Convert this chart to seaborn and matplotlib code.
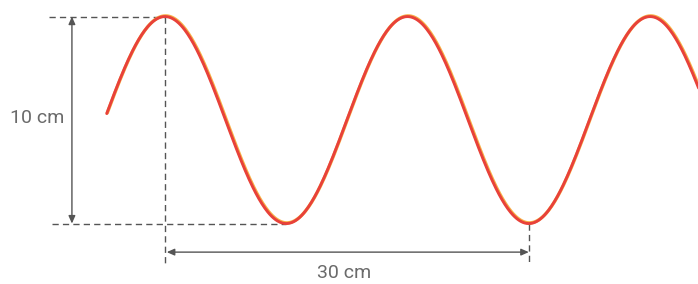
import numpy as np
import pandas as pd
import matplotlib
matplotlib.use("Agg")
import matplotlib.pyplot as plt
import matplotlib.transforms as mtransforms
import seaborn as sns

# Wave parameters (cm)
wavelength = 20.0          # 30 cm spans 1.5 wavelengths
amplitude = 5.0            # 10 cm peak to trough
x_start, x_end = -4.8, 44.0
peak_x = 0.0
trough_x = 10.0
span_end_x = 30.0
height_label = "10 cm"
length_label = "30 cm"

xs = np.linspace(x_start, x_end, 600)
wave = pd.DataFrame({"x": xs, "y": amplitude * np.cos(2 * np.pi * (xs - peak_x) / wavelength)})

sns.set_style("white")
plt.rcParams["font.family"] = ["Liberation Sans Narrow", "Roboto", "DejaVu Sans"]

fig = plt.figure(figsize=(6.98, 2.84), dpi=100)
ax = fig.add_axes([0, 0, 1, 1])
ax.set_xlim(-13.6, 43.95)
ax.set_ylim(-7.92, 5.8)
ax.axis("off")

grey = "#555555"
dash = (0, (4.5, 3))

# dashed guide lines
ax.plot([-9.6, peak_x], [amplitude, amplitude], color=grey, lw=1.0, ls=dash)
ax.plot([-9.3, trough_x], [-amplitude, -amplitude], color=grey, lw=1.0, ls=dash)
ax.plot([peak_x, peak_x], [amplitude, -6.9], color=grey, lw=1.0, ls=dash)
ax.plot([span_end_x, span_end_x], [-amplitude, -6.95], color=grey, lw=1.0, ls=dash)

# wave: orange edge under red line
offset = mtransforms.offset_copy(ax.transData, fig=fig, x=0.6, y=0.7, units="dots")
sns.lineplot(data=wave, x="x", y="y", ax=ax, color="#f7b046", lw=2.4, sort=False,
             transform=offset)
sns.lineplot(data=wave, x="x", y="y", ax=ax, color="#e8413a", lw=2.1, sort=False)

# arrows
arrow_kw = dict(arrowstyle="<|-|>,head_length=0.45,head_width=0.2", color=grey, lw=1.0,
                shrinkA=0, shrinkB=0)
ax.annotate("", xy=(-7.67, amplitude), xytext=(-7.67, -amplitude), arrowprops=arrow_kw)
ax.annotate("", xy=(0.15, -6.38), xytext=(span_end_x, -6.38), arrowprops=arrow_kw)

ax.text(-10.5, 0.1, height_label, ha="center", va="center", fontsize=14, color="#6a6a6a")
ax.text(14.8, -7.38, length_label, ha="center", va="center", fontsize=14, color="#6a6a6a")

fig.savefig("out.png", dpi=100)
